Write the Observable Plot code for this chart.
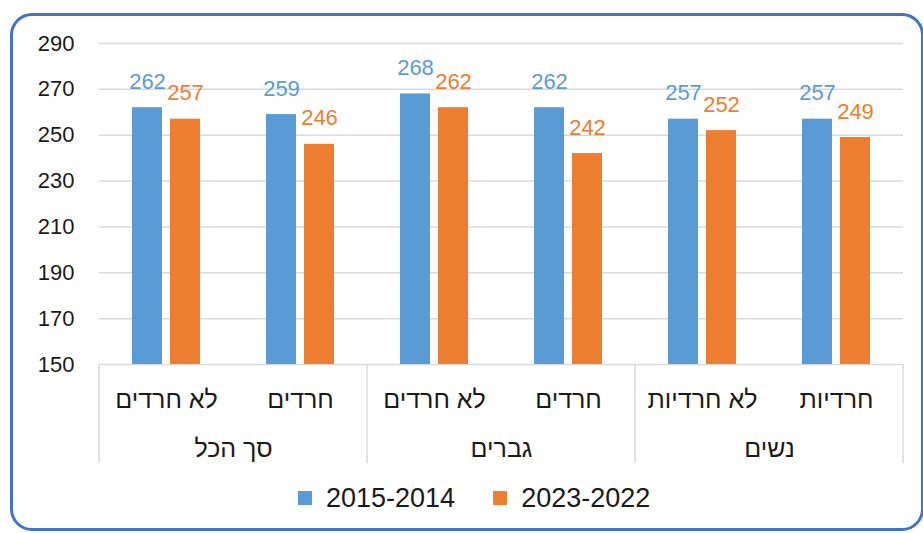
<!DOCTYPE html>
<html lang="he">
<head>
<meta charset="utf-8">
<script src="https://cdn.jsdelivr.net/npm/d3@7"></script>
<script src="https://cdn.jsdelivr.net/npm/@observablehq/plot@0.6"></script>
<style>
  html, body { margin: 0; padding: 0; background: #fff; }
  body { width: 923px; height: 533px; overflow: hidden; position: relative;
         font-family: "Liberation Sans", Arial, "DejaVu Sans", sans-serif; }
  #border { position: absolute; left: 10px; top: 13px; width: 914px; height: 518px;
            border: 3px solid #4472C4; border-radius: 22px; box-sizing: border-box; }
  #chart { position: absolute; left: 0; top: 0; }
  #legend { position: absolute; left: 298px; top: 484px; height: 28px;
            display: flex; align-items: center; font-size: 27px; color: #1a1a1a; }
  #legend .item { display: flex; align-items: center; margin-right: 38px; }
  #legend .sw { width: 14px; height: 14px; margin-right: 14px; }
</style>
</head>
<body>
<div id="border"></div>
<div id="chart"></div>
<div id="legend"></div>
<script>
// ---- data ----
const groups = ["סך הכל", "גברים", "נשים"];
const categories = ["לא חרדים", "חרדים", "לא חרדים", "חרדים", "לא חרדיות", "חרדיות"];
const categoryGroup = [0, 0, 1, 1, 2, 2];
const series = ["2015-2014", "2023-2022"];
const values2015 = [262, 259, 268, 262, 257, 257];
const values2023 = [257, 246, 262, 242, 252, 249];
const colors = ["#5B9BD5", "#ED7D31"];
const yTicks = [150, 170, 190, 210, 230, 250, 270, 290];

// ---- derived tables ----
const keys = categories.map((_, i) => "c" + i);
const rows = categories.flatMap((c, i) => [
  {key: keys[i], series: series[0], value: values2015[i]},
  {key: keys[i], series: series[1], value: values2023[i]}
]);
const groupRows = groups.map((g, gi) => ({
  name: g,
  first: keys[categoryGroup.indexOf(gi)]
}));
const yMin = yTicks[0], yMax = yTicks[yTicks.length - 1];

const FONT = '"Liberation Sans", Arial, "DejaVu Sans", sans-serif';
const GRID = "#d9d9d9";

const separators = Plot.frame({
  facet: "super",
  stroke: "none",
  render: (index, scales, values, dims) => {
    const g = d3.create("svg:g").attr("stroke", GRID).attr("stroke-width", 1.5);
    const fx = scales.fx ||
      d3.scaleBand(keys, [dims.marginLeft, dims.width - dims.marginRight]);
    const bw = fx.bandwidth();
    const yb = dims.height - dims.marginBottom;
    const xs = groupRows.map(d => fx(d.first));
    xs.push(fx(keys[keys.length - 1]) + bw);
    for (const x of xs) {
      g.append("line").attr("x1", x).attr("x2", x).attr("y1", yb).attr("y2", yb + 99);
    }
    return g.node();
  }
});

const chart = Plot.plot({
  width: 923,
  height: 470,
  marginLeft: 97,
  marginRight: 18,
  marginTop: 43,
  marginBottom: 106,
  style: {fontFamily: FONT, fontSize: "22px", color: "#1a1a1a", overflow: "visible", background: "transparent"},
  fx: {domain: keys, padding: 0, axis: null},
  x: {domain: series, paddingInner: 0.208, paddingOuter: 0.853, axis: null},
  y: {domain: [yMin, yMax], axis: null},
  color: {domain: series, range: colors},
  marks: [
    Plot.gridY(yTicks, {stroke: GRID, strokeOpacity: 1, strokeWidth: 1.5}),
    Plot.axisY(yTicks, {tickSize: 0, tickPadding: 25, label: null, fontSize: 22, fill: "#1a1a1a"}),
    Plot.barY(rows, {fx: "key", x: "series", y1: yMin, y2: "value", fill: "series"}),
    Plot.text(rows, {fx: "key", x: "series", y: "value", text: d => String(d.value),
      fill: "series", dy: -26, lineAnchor: "middle", fontSize: 22}),
    Plot.axisFx({anchor: "bottom", tickFormat: k => categories[keys.indexOf(k)], tickSize: 0, tickPadding: 26,
      label: null, fontSize: 25, fill: "#1a1a1a"}),
    Plot.text(groupRows, {fx: "first", text: "name", frameAnchor: "bottom-right",
      textAnchor: "middle", lineAnchor: "middle", dy: 84, fontSize: 25, fill: "#1a1a1a",
      letterSpacing: 1.5}),
    separators
  ]
});
document.getElementById("chart").append(chart);

// legend
const legend = document.getElementById("legend");
series.forEach((s, i) => {
  const item = document.createElement("div");
  item.className = "item";
  const sw = document.createElement("div");
  sw.className = "sw";
  sw.style.background = colors[i];
  const t = document.createElement("span");
  t.textContent = s;
  item.append(sw, t);
  legend.append(item);
});
</script>
</body>
</html>
